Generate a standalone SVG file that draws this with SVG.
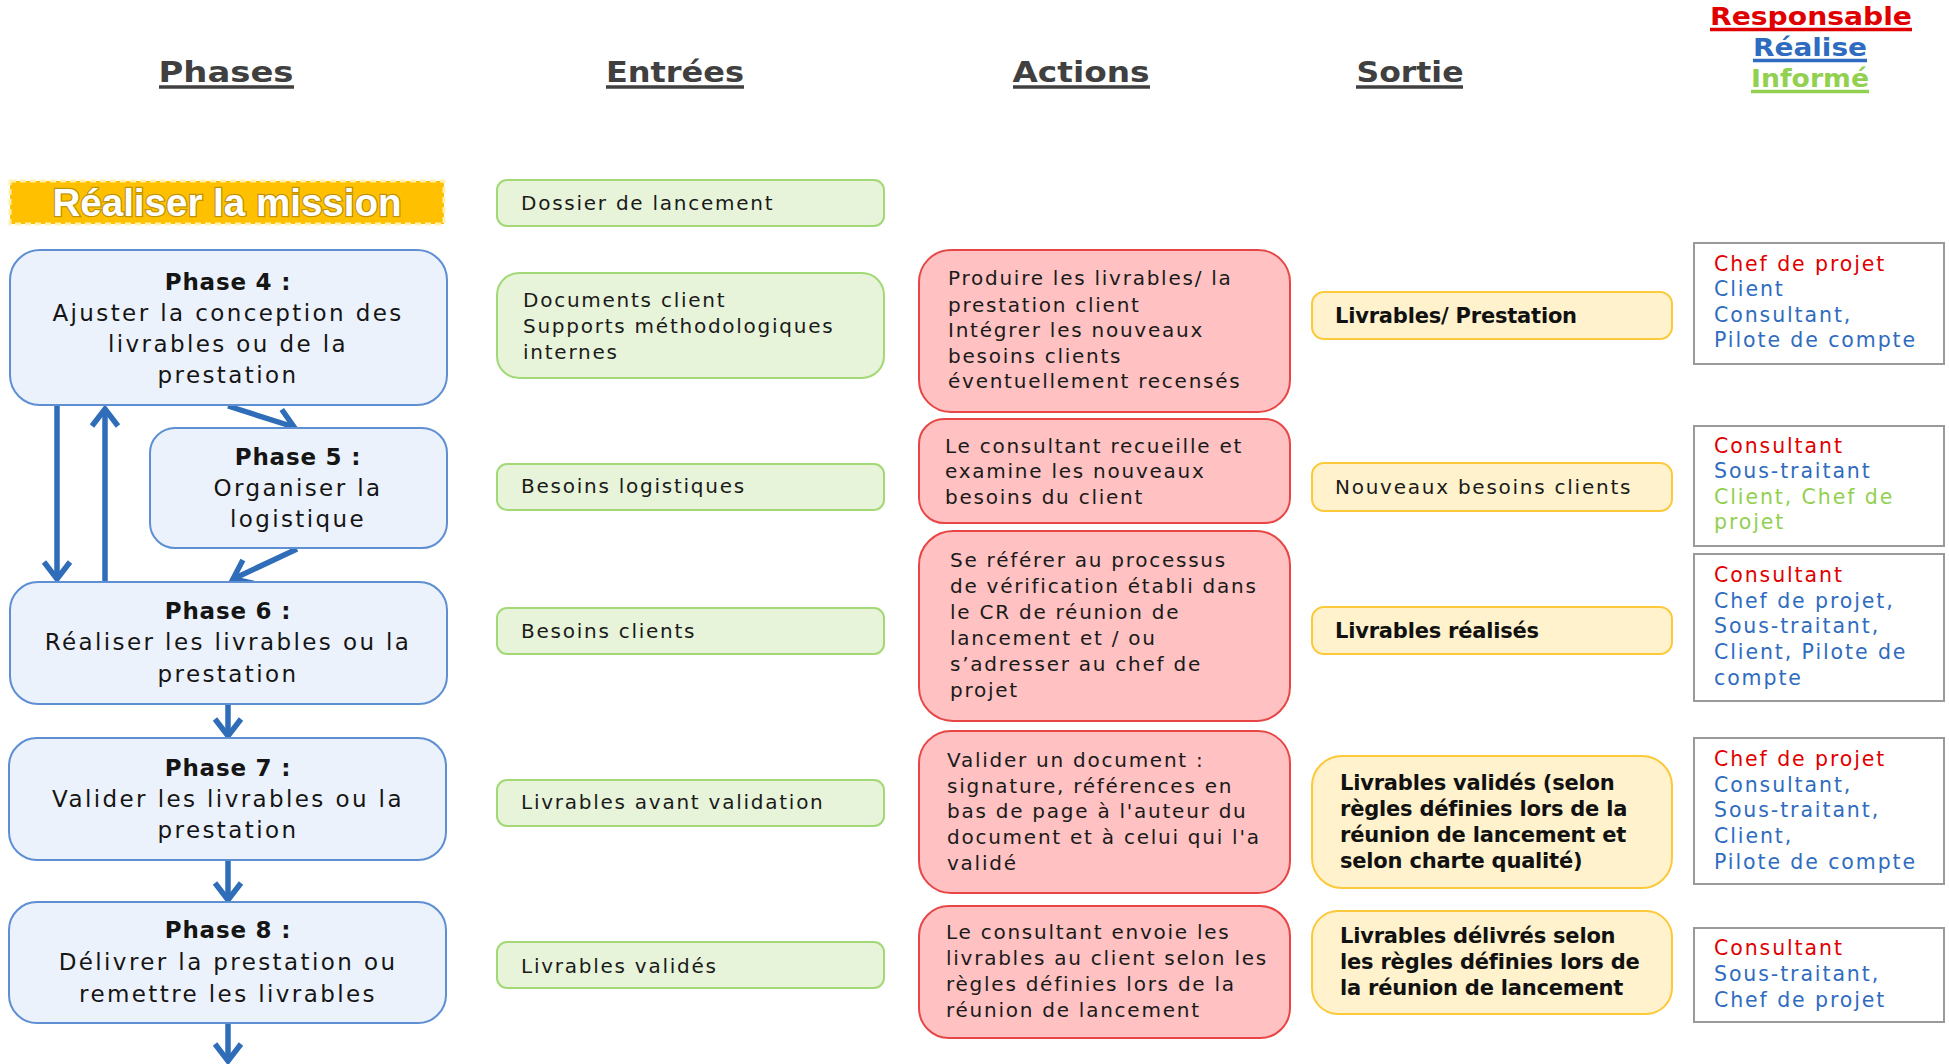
<svg xmlns="http://www.w3.org/2000/svg" width="1949" height="1064" viewBox="0 0 1949 1064">
<style>
.hd{font-family:"DejaVu Sans",sans-serif;font-weight:bold;font-size:29px;fill:#404040;text-anchor:middle}
.ul{stroke-width:3.5}
.phb{fill:#ECF2FB;stroke:#5E8FD3;stroke-width:2}
.ph{font-family:"DejaVu Sans",sans-serif;font-size:23px;letter-spacing:2.4px;fill:#151515;text-anchor:middle}
.pt{font-weight:bold;letter-spacing:0.8px}
.enb{fill:#E7F4D9;stroke:#A3D877;stroke-width:2}
.acb{fill:#FFC1C1;stroke:#E84646;stroke-width:2}
.sob{fill:#FFF2CC;stroke:#FCC93A;stroke-width:2}
.rsb{fill:#FFFFFF;stroke:#9A9A9A;stroke-width:2}
.t{font-family:"DejaVu Sans",sans-serif;font-size:20px;letter-spacing:1.75px;fill:#1A1A1A}
.tb{font-family:"DejaVu Sans",sans-serif;font-size:21px;font-weight:bold;letter-spacing:-0.2px;fill:#111}
.r{font-family:"DejaVu Sans",sans-serif;font-size:20.5px;letter-spacing:1.9px}
.red{fill:#E00000}
.blue{fill:#2F6CC0}
.green{fill:#92D050}
.con{stroke:#2F6DB8;stroke-width:5.5;fill:none;marker-end:url(#chev)}
</style>
<defs>
<marker id="chev" viewBox="-22 -16 26 32" refX="0" refY="0" markerWidth="26" markerHeight="32" markerUnits="userSpaceOnUse" orient="auto" overflow="visible">
<path d="M-17,-13 L0,0 L-17,13" fill="none" stroke="#2F6DB8" stroke-width="5.5" stroke-linejoin="miter"/>
</marker>
</defs>
<rect width="1949" height="1064" fill="#FFFFFF"/>

<g id="headers">
<text class="hd" x="226" y="82" textLength="135" lengthAdjust="spacingAndGlyphs">Phases</text>
<line class="ul" x1="159" y1="87" x2="294" y2="87" stroke="#404040"/>
<text class="hd" x="675" y="82" textLength="138" lengthAdjust="spacingAndGlyphs">Entrées</text>
<line class="ul" x1="606" y1="87" x2="744" y2="87" stroke="#404040"/>
<text class="hd" x="1081" y="82" textLength="137" lengthAdjust="spacingAndGlyphs">Actions</text>
<line class="ul" x1="1013" y1="87" x2="1150" y2="87" stroke="#404040"/>
<text class="hd" x="1410" y="82" textLength="107" lengthAdjust="spacingAndGlyphs">Sortie</text>
<line class="ul" x1="1356" y1="87" x2="1463" y2="87" stroke="#404040"/>
<text class="hd" x="1811" y="25" textLength="202" lengthAdjust="spacingAndGlyphs" style="font-size:25px;fill:#E00000">Responsable</text>
<line class="ul" x1="1710" y1="29.5" x2="1912" y2="29.5" stroke="#E00000"/>
<text class="hd" x="1810" y="56" textLength="114" lengthAdjust="spacingAndGlyphs" style="font-size:25px;fill:#2F6CC0">Réalise</text>
<line class="ul" x1="1753" y1="60.5" x2="1867" y2="60.5" stroke="#2F6CC0"/>
<text class="hd" x="1810" y="87" textLength="118" lengthAdjust="spacingAndGlyphs" style="font-size:25px;fill:#92D050">Informé</text>
<line class="ul" x1="1751" y1="91.5" x2="1869" y2="91.5" stroke="#92D050"/>
</g>

<g id="mission">
<rect x="10" y="181" width="434" height="43" fill="#FFC000" stroke="#FFF0B0" stroke-width="3" stroke-dasharray="6 4"/>
<text x="227" y="216" font-family="Liberation Sans, sans-serif" font-weight="bold" font-size="38" fill="#FFFFFF" stroke="#8A6A10" stroke-width="2.5" stroke-opacity="0.55" paint-order="stroke" text-anchor="middle" textLength="349" lengthAdjust="spacingAndGlyphs">Réaliser la mission</text>
</g>

<g id="connectors">
<line class="con" x1="57" y1="405" x2="57" y2="579"/>
<line class="con" x1="105" y1="582" x2="105" y2="409"/>
<line class="con" x1="228" y1="406" x2="294" y2="427"/>
<line class="con" x1="297" y1="549" x2="233" y2="579"/>
<line class="con" x1="228" y1="704" x2="228" y2="736"/>
<line class="con" x1="228" y1="860" x2="228" y2="900"/>
<line class="con" x1="228" y1="1023" x2="228" y2="1061"/>
</g>

<g id="phase4">
<rect class="phb" x="10" y="250" width="437" height="155" rx="30"/>
<text class="ph pt" x="228" y="290">Phase 4 :</text>
<text class="ph" x="228" y="321">Ajuster la conception des</text>
<text class="ph" x="228" y="352">livrables ou de la</text>
<text class="ph" x="228" y="383">prestation</text>
</g>
<g id="phase5">
<rect class="phb" x="150" y="428" width="297" height="120" rx="25"/>
<text class="ph pt" x="298" y="465">Phase 5 :</text>
<text class="ph" x="298" y="496">Organiser la</text>
<text class="ph" x="298" y="527">logistique</text>
</g>
<g id="phase6">
<rect class="phb" x="10" y="582" width="437" height="122" rx="28"/>
<text class="ph pt" x="228" y="619">Phase 6 :</text>
<text class="ph" x="228" y="650">Réaliser les livrables ou la</text>
<text class="ph" x="228" y="682">prestation</text>
</g>
<g id="phase7">
<rect class="phb" x="9" y="738" width="437" height="122" rx="28"/>
<text class="ph pt" x="228" y="776">Phase 7 :</text>
<text class="ph" x="228" y="807">Valider les livrables ou la</text>
<text class="ph" x="228" y="838">prestation</text>
</g>
<g id="phase8">
<rect class="phb" x="9" y="902" width="437" height="121" rx="28"/>
<text class="ph pt" x="228" y="938">Phase 8 :</text>
<text class="ph" x="228" y="970">Délivrer la prestation ou</text>
<text class="ph" x="228" y="1002">remettre les livrables</text>
</g>

<g id="entree1">
<rect class="enb" x="497" y="180" width="387" height="46" rx="10"/>
<text class="t" x="521" y="210">Dossier de lancement</text>
</g>
<g id="entree2">
<rect class="enb" x="497" y="273" width="387" height="105" rx="22"/>
<text class="t" x="523" y="307">Documents client</text>
<text class="t" x="523" y="333">Supports méthodologiques</text>
<text class="t" x="523" y="359">internes</text>
</g>
<g id="entree3">
<rect class="enb" x="497" y="464" width="387" height="46" rx="10"/>
<text class="t" x="521" y="493">Besoins logistiques</text>
</g>
<g id="entree4">
<rect class="enb" x="497" y="608" width="387" height="46" rx="10"/>
<text class="t" x="521" y="638">Besoins clients</text>
</g>
<g id="entree5">
<rect class="enb" x="497" y="780" width="387" height="46" rx="10"/>
<text class="t" x="521" y="809">Livrables avant validation</text>
</g>
<g id="entree6">
<rect class="enb" x="497" y="942" width="387" height="46" rx="10"/>
<text class="t" x="521" y="973">Livrables validés</text>
</g>

<g id="action1">
<rect class="acb" x="919" y="250" width="371" height="162" rx="32"/>
<text class="t" x="948" y="285">Produire les livrables/ la</text>
<text class="t" x="948" y="312">prestation client</text>
<text class="t" x="948" y="337">Intégrer les nouveaux</text>
<text class="t" x="948" y="363">besoins clients</text>
<text class="t" x="948" y="388">éventuellement recensés</text>
</g>
<g id="action2">
<rect class="acb" x="919" y="419" width="371" height="104" rx="25"/>
<text class="t" x="945" y="453">Le consultant recueille et</text>
<text class="t" x="945" y="478">examine les nouveaux</text>
<text class="t" x="945" y="504">besoins du client</text>
</g>
<g id="action3">
<rect class="acb" x="919" y="531" width="371" height="190" rx="34"/>
<text class="t" x="950" y="567">Se référer au processus</text>
<text class="t" x="950" y="593">de vérification établi dans</text>
<text class="t" x="950" y="619">le CR de réunion de</text>
<text class="t" x="950" y="645">lancement et / ou</text>
<text class="t" x="950" y="671">s’adresser au chef de</text>
<text class="t" x="950" y="697">projet</text>
</g>
<g id="action4">
<rect class="acb" x="919" y="731" width="371" height="162" rx="32"/>
<text class="t" x="947" y="767">Valider un document :</text>
<text class="t" x="947" y="793">signature, références en</text>
<text class="t" x="947" y="818">bas de page à l'auteur du</text>
<text class="t" x="947" y="844">document et à celui qui l'a</text>
<text class="t" x="947" y="870">validé</text>
</g>
<g id="action5">
<rect class="acb" x="919" y="906" width="371" height="132" rx="30"/>
<text class="t" x="946" y="939">Le consultant envoie les</text>
<text class="t" x="946" y="965">livrables au client selon les</text>
<text class="t" x="946" y="991">règles définies lors de la</text>
<text class="t" x="946" y="1017">réunion de lancement</text>
</g>

<g id="sortie1">
<rect class="sob" x="1312" y="292" width="360" height="47" rx="12"/>
<text class="tb" x="1335" y="323">Livrables/ Prestation</text>
</g>
<g id="sortie2">
<rect class="sob" x="1312" y="463" width="360" height="48" rx="12"/>
<text class="t" x="1335" y="494">Nouveaux besoins clients</text>
</g>
<g id="sortie3">
<rect class="sob" x="1312" y="607" width="360" height="47" rx="12"/>
<text class="tb" x="1335" y="638">Livrables réalisés</text>
</g>
<g id="sortie4">
<rect class="sob" x="1312" y="756" width="360" height="132" rx="30"/>
<text class="tb" x="1340" y="790">Livrables validés (selon</text>
<text class="tb" x="1340" y="816">règles définies lors de la</text>
<text class="tb" x="1340" y="842">réunion de lancement et</text>
<text class="tb" x="1340" y="868">selon charte qualité)</text>
</g>
<g id="sortie5">
<rect class="sob" x="1312" y="911" width="360" height="103" rx="26"/>
<text class="tb" x="1340" y="943">Livrables délivrés selon</text>
<text class="tb" x="1340" y="969">les règles définies lors de</text>
<text class="tb" x="1340" y="995">la réunion de lancement</text>
</g>

<g id="resp1">
<rect class="rsb" x="1694" y="243" width="250" height="121"/>
<text class="r red" x="1714" y="271">Chef de projet</text>
<text class="r blue" x="1714" y="296">Client</text>
<text class="r blue" x="1714" y="322">Consultant,</text>
<text class="r blue" x="1714" y="347">Pilote de compte</text>
</g>
<g id="resp2">
<rect class="rsb" x="1694" y="426" width="250" height="120"/>
<text class="r red" x="1714" y="453">Consultant</text>
<text class="r blue" x="1714" y="478">Sous-traitant</text>
<text class="r green" x="1714" y="504">Client, Chef de</text>
<text class="r green" x="1714" y="529">projet</text>
</g>
<g id="resp3">
<rect class="rsb" x="1694" y="554" width="250" height="147"/>
<text class="r red" x="1714" y="582">Consultant</text>
<text class="r blue" x="1714" y="608">Chef de projet,</text>
<text class="r blue" x="1714" y="633">Sous-traitant,</text>
<text class="r blue" x="1714" y="659">Client, Pilote de</text>
<text class="r blue" x="1714" y="685">compte</text>
</g>
<g id="resp4">
<rect class="rsb" x="1694" y="738" width="250" height="146"/>
<text class="r red" x="1714" y="766">Chef de projet</text>
<text class="r blue" x="1714" y="792">Consultant,</text>
<text class="r blue" x="1714" y="817">Sous-traitant,</text>
<text class="r blue" x="1714" y="843">Client,</text>
<text class="r blue" x="1714" y="869">Pilote de compte</text>
</g>
<g id="resp5">
<rect class="rsb" x="1694" y="928" width="250" height="94"/>
<text class="r red" x="1714" y="955">Consultant</text>
<text class="r blue" x="1714" y="981">Sous-traitant,</text>
<text class="r blue" x="1714" y="1007">Chef de projet</text>
</g>
</svg>
